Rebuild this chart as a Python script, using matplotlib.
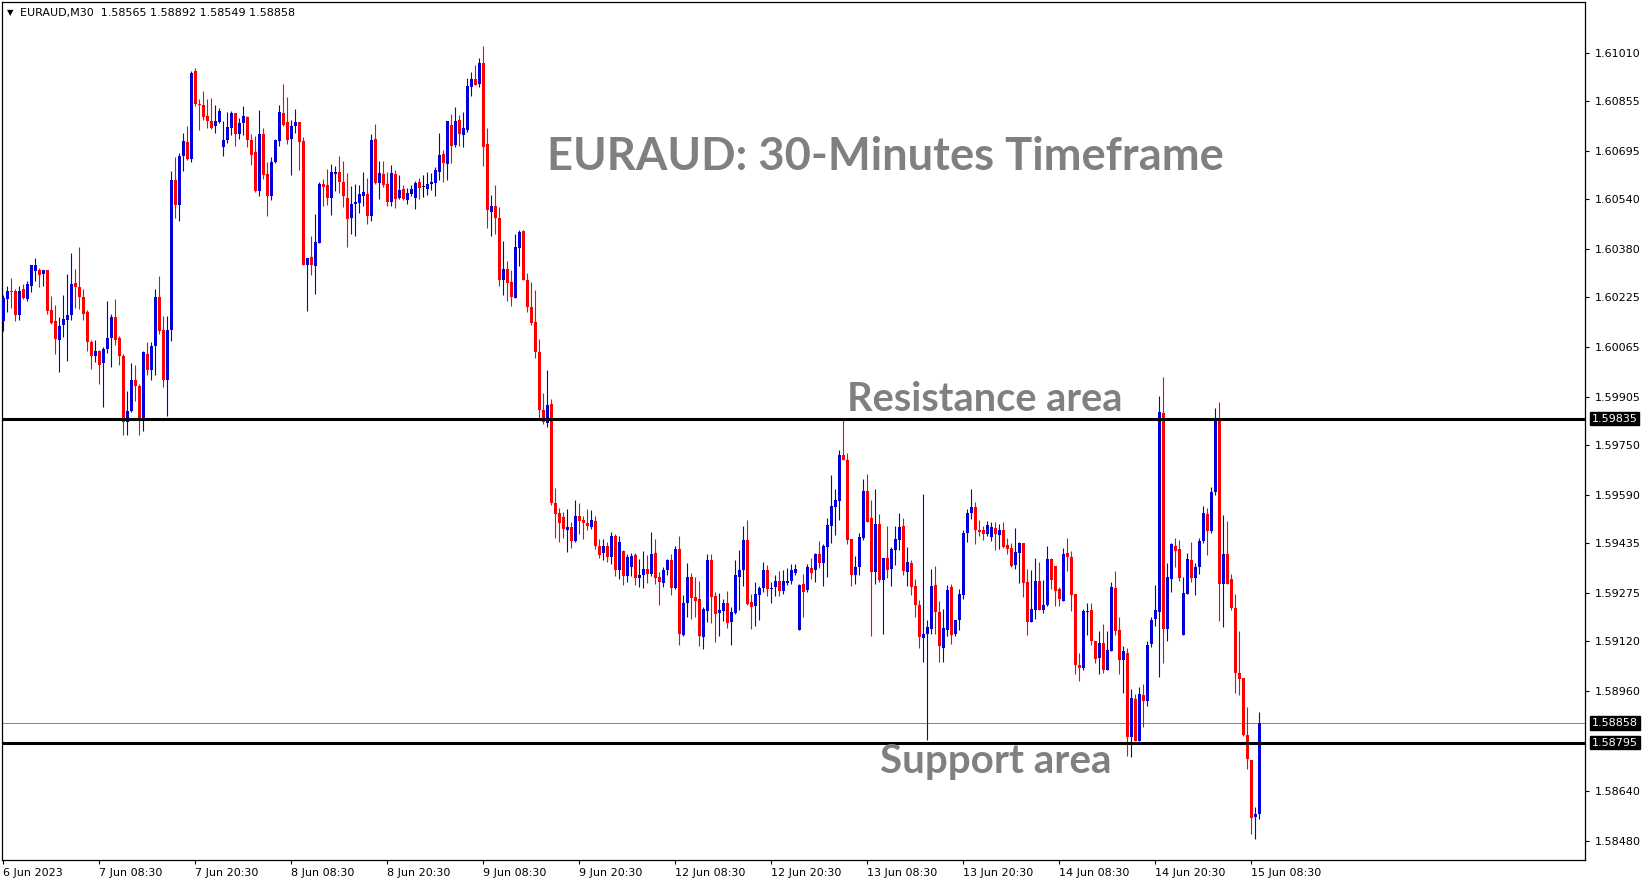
import matplotlib
matplotlib.use("Agg")
import matplotlib.pyplot as plt
import numpy as np

# EURAUD M30 candles, prices in points (1e-5)
opens = [
    160148, 160219, 160246, 160244, 160167, 160250, 160218, 160260, 160310, 160313,
    160300, 160313, 160185, 160150, 160089, 160135, 160153, 160169, 160272, 160259,
    160227, 160177, 160083, 160036, 160052, 160013, 160059, 160094, 160163, 160095,
    160038, 159824, 159859, 159961, 159941, 159838, 160044, 159990, 160067, 160227,
    160121, 159961, 160121, 160602, 160520, 160677, 160723, 160669, 160950, 160846,
    160843, 160807, 160792, 160776, 160789, 160709, 160730, 160770, 160818, 160748,
    160784, 160805, 160730, 160690, 160565, 160748, 160622, 160549, 160658, 160728,
    160817, 160789, 160733, 160775, 160789, 160727, 160328, 160355, 160324, 160400,
    160589, 160586, 160543, 160621, 160627, 160596, 160543, 160480, 160523, 160528,
    160551, 160557, 160487, 160733, 160593, 160621, 160589, 160532, 160621, 160543,
    160573, 160538, 160557, 160543, 160596, 160578, 160574, 160589, 160593, 160628,
    160685, 160653, 160778, 160714, 160794, 160747, 160762, 160901, 160926, 160910,
    160978, 160717, 160500, 160519, 160480, 160279, 160317, 160275, 160223, 160384,
    160439, 160281, 160195, 160147, 160050, 159864, 159822, 159883, 159565, 159531,
    159521, 159477, 159486, 159444, 159524, 159511, 159499, 159489, 159508, 159428,
    159405, 159428, 159390, 159458, 159350, 159410, 159330, 159360, 159399, 159323,
    159332, 159354, 159336, 159405, 159326, 159307, 159349, 159380, 159291, 159418,
    159140, 159242, 159328, 159262, 159255, 159133, 159217, 159380, 159265, 159211,
    159217, 159245, 159182, 159211, 159326, 159348, 159445, 159246, 159233, 159270,
    159291, 159351, 159288, 159294, 159313, 159281, 159309, 159313, 159341, 159156,
    159304, 159284, 159357, 159348, 159400, 159372, 159424, 159490, 159551, 159572,
    159720, 159704, 159450, 159334, 159360, 159453, 159604, 159517, 159344, 159498,
    159318, 159389, 159354, 159414, 159447, 159491, 159344, 159373, 159299, 159238,
    159132, 159145, 159160, 159302, 159216, 159098, 159158, 159296, 159145, 159190,
    159270, 159469, 159533, 159552, 159479, 159479, 159466, 159456, 159485, 159462,
    159479, 159430, 159421, 159366, 159405, 159437, 159311, 159181, 159222, 159315,
    159222, 159238, 159386, 159363, 159289, 159249, 159405, 159392, 159271, 159046,
    159036, 159216, 159222, 159123, 159068, 159116, 159027, 159088, 159293, 159158,
    159062, 159084, 158812, 158934, 158802, 158947, 158930, 159113, 159193, 159213,
    159854, 159161, 159322, 159428, 159418, 159142, 159272, 159383, 159325, 159360,
    159444, 159530, 159476, 159601, 159835, 159306, 159402, 159319, 159229, 159020,
    159004, 158821, 158740, 158555, 158565,
]
highs = [
    160233, 160262, 160287, 160250, 160262, 160268, 160278, 160330, 160352, 160319,
    160313, 160313, 160230, 160201, 160163, 160233, 160300, 160367, 160317, 160385,
    160253, 160185, 160089, 160089, 160057, 160064, 160212, 160171, 160220, 160100,
    160044, 159923, 160015, 160006, 159945, 160052, 160083, 160083, 160253, 160294,
    160164, 160166, 160631, 160676, 160688, 160752, 160775, 160950, 160960, 160862,
    160888, 160862, 160866, 160843, 160832, 160791, 160821, 160823, 160818, 160800,
    160839, 160808, 160748, 160743, 160827, 160770, 160659, 160676, 160732, 160843,
    160910, 160868, 160795, 160830, 160789, 160740, 160352, 160423, 160493, 160594,
    160605, 160637, 160653, 160647, 160679, 160664, 160624, 160583, 160589, 160586,
    160626, 160609, 160748, 160782, 160664, 160661, 160627, 160650, 160634, 160618,
    160586, 160575, 160586, 160599, 160609, 160618, 160627, 160623, 160642, 160753,
    160698, 160791, 160814, 160837, 160810, 160820, 160929, 160948, 160971, 160993,
    161033, 160769, 160554, 160586, 160516, 160406, 160342, 160314, 160428, 160442,
    160442, 160303, 160275, 160249, 160092, 159919, 159993, 159900, 159614, 159550,
    159537, 159546, 159504, 159573, 159563, 159524, 159546, 159543, 159524, 159448,
    159448, 159440, 159473, 159465, 159460, 159415, 159400, 159405, 159405, 159386,
    159409, 159396, 159473, 159450, 159342, 159358, 159386, 159402, 159426, 159460,
    159270, 159373, 159341, 159326, 159315, 159230, 159400, 159402, 159278, 159274,
    159256, 159283, 159230, 159383, 159415, 159492, 159511, 159273, 159310, 159297,
    159376, 159364, 159310, 159332, 159345, 159348, 159357, 159368, 159368, 159304,
    159336, 159370, 159389, 159405, 159441, 159432, 159516, 159656, 159611, 159736,
    159832, 159725, 159450, 159395, 159469, 159642, 159658, 159575, 159610, 159530,
    159389, 159491, 159424, 159491, 159533, 159517, 159424, 159383, 159321, 159254,
    159594, 159190, 159354, 159363, 159251, 159225, 159302, 159305, 159190, 159289,
    159479, 159546, 159610, 159568, 159511, 159491, 159507, 159504, 159504, 159498,
    159504, 159453, 159437, 159485, 159440, 159437, 159354, 159350, 159389, 159376,
    159318, 159427, 159389, 159363, 159296, 159420, 159453, 159409, 159271, 159084,
    159225, 159242, 159242, 159123, 159155, 159177, 159155, 159312, 159347, 159200,
    159107, 159100, 158966, 158950, 158975, 158982, 159120, 159200, 159302, 159909,
    159970, 159373, 159437, 159453, 159447, 159328, 159405, 159440, 159371, 159453,
    159556, 159549, 159617, 159870, 159890, 159527, 159506, 159338, 159272, 159155,
    159004, 158911, 158740, 158587, 158892,
]
lows = [
    160118, 160177, 160191, 160148, 160153, 160219, 160214, 160241, 160276, 160257,
    160262, 160171, 160139, 160044, 159984, 160096, 160020, 160153, 160191, 160187,
    160153, 160052, 159996, 160016, 159945, 159872, 160045, 160000, 160073, 160006,
    159782, 159782, 159856, 159893, 159784, 159797, 159974, 159958, 159974, 160107,
    159936, 159845, 160086, 160481, 160471, 160629, 160666, 160658, 160838, 160762,
    160794, 160770, 160766, 160754, 160784, 160680, 160720, 160746, 160712, 160734,
    160746, 160709, 160650, 160563, 160549, 160605, 160487, 160536, 160656, 160712,
    160776, 160717, 160616, 160751, 160634, 160328, 160182, 160295, 160235, 160400,
    160519, 160520, 160490, 160567, 160560, 160516, 160387, 160429, 160423, 160496,
    160519, 160461, 160471, 160589, 160541, 160578, 160519, 160519, 160512, 160541,
    160536, 160525, 160551, 160509, 160541, 160548, 160552, 160568, 160549, 160602,
    160596, 160600, 160657, 160707, 160711, 160708, 160756, 160871, 160905, 160901,
    160647, 160448, 160422, 160428, 160260, 160233, 160214, 160198, 160223, 160326,
    160279, 160177, 160137, 160031, 159832, 159819, 159807, 159557, 159451, 159438,
    159451, 159406, 159419, 159439, 159464, 159448, 159479, 159482, 159416, 159388,
    159383, 159375, 159370, 159330, 159320, 159300, 159310, 159330, 159300, 159294,
    159291, 159307, 159329, 159304, 159236, 159294, 159332, 159269, 159288, 159108,
    159137, 159197, 159192, 159197, 159104, 159095, 159182, 159179, 159118, 159137,
    159185, 159163, 159108, 159208, 159222, 159297, 159236, 159160, 159169, 159188,
    159278, 159265, 159243, 159265, 159265, 159271, 159302, 159304, 159332, 159156,
    159198, 159280, 159320, 159310, 159357, 159297, 159326, 159436, 159461, 159511,
    159701, 159434, 159297, 159305, 159334, 159447, 159503, 159136, 159305, 159312,
    159143, 159325, 159299, 159366, 159414, 159334, 159299, 159270, 159200, 159100,
    159053, 158803, 159145, 159145, 159053, 159053, 159136, 159113, 159136, 159158,
    159257, 159440, 159514, 159434, 159460, 159447, 159460, 159443, 159414, 159418,
    159421, 159402, 159360, 159354, 159308, 159264, 159141, 159181, 159193, 159222,
    159211, 159235, 159289, 159235, 159233, 159249, 159345, 159217, 159014, 158992,
    159027, 159142, 159110, 159052, 159014, 159020, 159027, 159088, 159142, 159017,
    158953, 158751, 158748, 158800, 158800, 158844, 158914, 159101, 159171, 159007,
    159052, 159123, 159280, 159360, 159315, 159142, 159272, 159312, 159268, 159335,
    159437, 159397, 159469, 159591, 159187, 159165, 159303, 159222, 158953, 158947,
    158818, 158712, 158501, 158485, 158549,
]
closes = [
    160223, 160246, 160241, 160169, 160244, 160223, 160269, 160330, 160330, 160297,
    160313, 160180, 160142, 160092, 160134, 160156, 160169, 160269, 160259, 160225,
    160172, 160080, 160036, 160051, 160009, 160060, 160095, 160163, 160089, 160038,
    159824, 159861, 159961, 159941, 159838, 160048, 159990, 160070, 160227, 160116,
    159961, 160121, 160602, 160520, 160679, 160727, 160669, 160946, 160846, 160843,
    160805, 160792, 160770, 160791, 160823, 160730, 160772, 160818, 160748, 160785,
    160808, 160730, 160683, 160565, 160748, 160618, 160549, 160660, 160730, 160820,
    160778, 160730, 160775, 160789, 160725, 160330, 160352, 160328, 160402, 160589,
    160580, 160543, 160627, 160627, 160594, 160551, 160477, 160525, 160532, 160557,
    160564, 160487, 160730, 160593, 160624, 160586, 160532, 160624, 160541, 160570,
    160541, 160560, 160573, 160593, 160577, 160578, 160589, 160596, 160634, 160682,
    160657, 160791, 160712, 160791, 160750, 160769, 160903, 160926, 160908, 160978,
    160709, 160504, 160519, 160478, 160279, 160317, 160272, 160226, 160387, 160435,
    160281, 160195, 160141, 160048, 159862, 159824, 159880, 159563, 159528, 159499,
    159480, 159486, 159441, 159524, 159508, 159499, 159492, 159511, 159425, 159399,
    159428, 159390, 159458, 159350, 159440, 159330, 159390, 159395, 159325, 159334,
    159354, 159336, 159402, 159323, 159310, 159351, 159380, 159291, 159418, 159143,
    159245, 159326, 159259, 159251, 159136, 159224, 159380, 159262, 159208, 159220,
    159243, 159179, 159213, 159332, 159348, 159445, 159240, 159230, 159273, 159291,
    159351, 159288, 159291, 159315, 159281, 159313, 159315, 159348, 159354, 159300,
    159278, 159360, 159341, 159400, 159372, 159426, 159495, 159556, 159575, 159720,
    159702, 159447, 159334, 159360, 159456, 159604, 159504, 159344, 159498, 159318,
    159389, 159350, 159418, 159450, 159488, 159347, 159376, 159296, 159238, 159135,
    159145, 159167, 159299, 159216, 159104, 159164, 159286, 159142, 159190, 159273,
    159469, 159533, 159552, 159479, 159472, 159466, 159495, 159488, 159466, 159479,
    159424, 159418, 159363, 159408, 159437, 159308, 159184, 159225, 159315, 159222,
    159238, 159386, 159318, 159283, 159257, 159402, 159390, 159268, 159043, 159036,
    159219, 159219, 159120, 159065, 159116, 159027, 159091, 159296, 159152, 159062,
    159088, 158812, 158937, 158802, 158950, 158930, 159110, 159190, 159222, 159857,
    159161, 159328, 159434, 159412, 159325, 159275, 159386, 159325, 159360, 159444,
    159533, 159476, 159601, 159835, 159306, 159402, 159306, 159229, 159020, 158998,
    158821, 158744, 158552, 158565, 158858,
]

x_tick_bars = [0, 24, 48, 72, 96, 120, 144, 168, 192, 216, 240, 264, 288, 312]
x_tick_labels = ["6 Jun 2023", "7 Jun 08:30", "7 Jun 20:30", "8 Jun 08:30", "8 Jun 20:30",
                 "9 Jun 08:30", "9 Jun 20:30", "12 Jun 08:30", "12 Jun 20:30", "13 Jun 08:30",
                 "13 Jun 20:30", "14 Jun 08:30", "14 Jun 20:30", "15 Jun 08:30"]
y_ticks = [1.61010, 1.60855, 1.60695, 1.60540, 1.60380, 1.60225, 1.60065, 1.59905,
           1.59750, 1.59590, 1.59435, 1.59275, 1.59120, 1.58960, 1.58640, 1.58480]
resistance = 1.59835
support = 1.58795
last_price = 1.58858

o = np.array(opens) / 1e5
h = np.array(highs) / 1e5
l = np.array(lows) / 1e5
c = np.array(closes) / 1e5
x = np.arange(len(o))

W, H = 1649, 884
fig = plt.figure(figsize=(W / 100, H / 100), dpi=100)
ax = fig.add_axes([2.5 / W, 1 - 860 / H, (1585 - 2.5) / W, (860 - 2) / H])

BULL = "#0000dd"
BEAR = "#ff0000"
cols = np.where(c > o, BULL, np.where(c < o, BEAR, "black"))

ax.vlines(x, l, h, colors=cols, linewidth=0.8, zorder=2)
body_lo = np.minimum(o, c)
body_h = np.maximum(np.abs(c - o), 0.00003)
ax.bar(x, body_h, bottom=body_lo, width=0.75, color=cols, linewidth=0, zorder=3)

ax.axhline(resistance, color="black", linewidth=2.2, zorder=4)
ax.axhline(support, color="black", linewidth=2.2, zorder=4)
ax.axhline(last_price, color="#778899", linewidth=0.7, zorder=1)

ax.set_xlim(-0.25, 395.4)
ax.set_ylim(1.584184, 1.611730)

ax.yaxis.tick_right()
ax.set_yticks(y_ticks)
ax.set_yticklabels([f"{v:.5f}" for v in y_ticks])
ax.set_xticks(x_tick_bars)
ax.set_xticklabels(x_tick_labels, ha="left")
ax.tick_params(axis="both", direction="out", length=3, width=0.8, labelsize=8, colors="black")
ax.tick_params(axis="x", pad=3)
ax.tick_params(axis="y", pad=4)
for s in ax.spines.values():
    s.set_linewidth(0.9)

for price in (resistance, last_price, support):
    ax.annotate(f"{price:.5f}", xy=(1, price), xycoords=("axes fraction", "data"),
                xytext=(5, 0), textcoords="offset points", va="center", ha="left",
                fontsize=8, color="white",
                bbox=dict(boxstyle="square,pad=0.15", fc="black", ec="black"))

fig.text(7 / W, 1 - 13 / H, "\u25bc", fontsize=6, va="center", ha="left")
fig.text(20 / W, 1 - 13 / H, "EURAUD,M30  1.58565 1.58892 1.58549 1.58858",
         fontsize=8, va="center", ha="left")

renderer = fig.canvas.get_renderer()


def fitted_text(cx, cy, s, target_w):
    t = fig.text(cx / W, 1 - cy / H, s, fontsize=30, fontweight="bold", family="Lato",
                 color="#808080", ha="center", va="center")
    bb = t.get_window_extent(renderer)
    t.set_fontsize(30 * target_w / bb.width)
    return t


fitted_text(885, 157, "EURAUD: 30-Minutes Timeframe", 679)
fitted_text(985, 400, "Resistance area", 275)
fitted_text(996, 761, "Support area", 231)

fig.savefig("out.png", dpi=100)
